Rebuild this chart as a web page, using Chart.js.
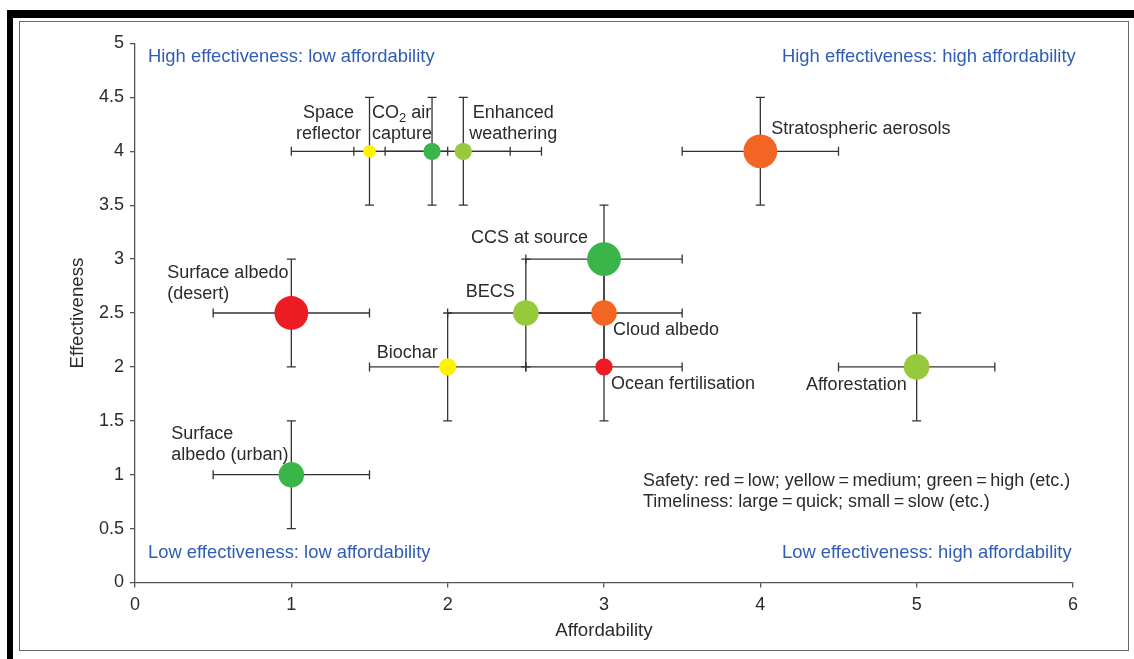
<!DOCTYPE html>
<html>
<head>
<meta charset="utf-8">
<title>Geoengineering options: effectiveness vs affordability</title>
<script src="https://cdn.jsdelivr.net/npm/chart.js@4.4.1/dist/chart.umd.min.js"></script>
<style>
  html, body { margin: 0; padding: 0; background: #fff; }
  #wrap { position: relative; width: 1134px; height: 659px; overflow: hidden; background: #fff; }
  #chart { position: absolute; left: 0; top: 0; }
  .bar-top { position: absolute; left: 7px; top: 10px; width: 1127px; height: 8px; background: #000; }
  .bar-left { position: absolute; left: 7px; top: 10px; width: 6px; height: 649px; background: #000; }
  .frame { position: absolute; left: 19px; top: 21px; width: 1108px; height: 628px; border: 1.5px solid #6a6a6a; pointer-events: none; }
</style>
</head>
<body>
<div id="wrap">
  <canvas id="chart" width="1134" height="659"></canvas>
  <div class="bar-top"></div>
  <div class="bar-left"></div>
  <div class="frame"></div>
</div>
<script>
// ---- data ----
const methods = [
  'Space\nreflector', 'CO₂ air\ncapture', 'Enhanced\nweathering', 'Stratospheric aerosols',
  'CCS at source', 'BECS', 'Cloud albedo', 'Ocean fertilisation', 'Biochar',
  'Surface albedo\n(desert)', 'Surface\nalbedo (urban)', 'Afforestation'
];
const affordability = [1.5, 1.9, 2.1, 4, 3, 2.5, 3, 3, 2, 1, 1, 5];
const effectiveness = [4, 4, 4, 4, 3, 2.5, 2.5, 2, 2, 2.5, 1, 2];
const affordabilitySpread = [0.5, 0.5, 0.5, 0.5, 0.5, 0.5, 0.5, 0.5, 0.5, 0.5, 0.5, 0.5];
const effectivenessSpread = [0.5, 0.5, 0.5, 0.5, 0.5, 0.5, 0.5, 0.5, 0.5, 0.5, 0.5, 0.5];
// safety class and timeliness rank (1 = slow ... 4 = quick)
const safety = ['medium', 'high', 'mediumHigh', 'lowMedium', 'high', 'mediumHigh',
                'lowMedium', 'low', 'medium', 'low', 'high', 'mediumHigh'];
const timeliness = [1, 2, 2, 4, 4, 3, 3, 2, 2, 4, 3, 3];
const xTicks = [0, 1, 2, 3, 4, 5, 6];
const yTicks = [0, 0.5, 1, 1.5, 2, 2.5, 3, 3.5, 4, 4.5, 5];
const quadrantTexts = [
  'High effectiveness: low affordability', 'High effectiveness: high affordability',
  'Low effectiveness: low affordability', 'Low effectiveness: high affordability'
];
const keyNotes = [
  'Safety: red\u2009=\u2009low; yellow\u2009=\u2009medium; green\u2009=\u2009high (etc.)',
  'Timeliness: large\u2009=\u2009quick; small\u2009=\u2009slow (etc.)'
];

// ---- styling ----
const FONT = '"Liberation Sans", Arial, Helvetica, sans-serif';
const TEXT = '#2b2b2b';
const BLUE = '#2f5db6';
const AXIS = '#555';
const safetyColour = {
  low: '#ed1c24', lowMedium: '#f26522', medium: '#fff200', mediumHigh: '#97c93d', high: '#39b54a'
};
const radiusForRank = { 1: 6.3, 2: 8.6, 3: 12.8, 4: 16.9 };
// text anchor relative to each marker: alignment, x offset, y offset of first line
const labelPlacement = [
  { align: 'center', dx: -41, dy: -38 },
  { align: 'left',   dx: -60, dy: -38 },
  { align: 'center', dx: 50,  dy: -38 },
  { align: 'left',   dx: 11,  dy: -22 },
  { align: 'right',  dx: -16, dy: -21 },
  { align: 'right',  dx: -11, dy: -21 },
  { align: 'left',   dx: 9,   dy: 17 },
  { align: 'left',   dx: 7,   dy: 17 },
  { align: 'right',  dx: -10, dy: -14 },
  { align: 'left',   dx: -124, dy: -40 },
  { align: 'left',   dx: -120, dy: -41 },
  { align: 'right',  dx: -10, dy: 18 }
];
const LINE_GAP = 21;

Chart.defaults.font.family = FONT;

// draw a text line, rendering "₂" as a lowered, smaller 2
function drawRich(ctx, text, x, y, align, size) {
  const parts = text.split('₂');
  const normal = size + 'px ' + FONT;
  const small = Math.round(size * 0.72) + 'px ' + FONT;
  const segs = [];
  parts.forEach((p, i) => {
    if (p) segs.push({ t: p, f: normal, dy: 0 });
    if (i < parts.length - 1) segs.push({ t: '2', f: small, dy: size * 0.28 });
  });
  let total = 0;
  segs.forEach(s => { ctx.font = s.f; s.w = ctx.measureText(s.t).width; total += s.w; });
  let cx = align === 'left' ? x : align === 'right' ? x - total : x - total / 2;
  ctx.textAlign = 'left';
  ctx.textBaseline = 'middle';
  segs.forEach(s => { ctx.font = s.f; ctx.fillText(s.t, cx, y + s.dy); cx += s.w; });
}

const annotations = {
  id: 'annotations',
  beforeDatasetsDraw(chart) {
    const { ctx, scales: { x, y } } = chart;
    ctx.save();
    ctx.strokeStyle = '#333';
    ctx.lineWidth = 1.3;
    const cap = 4.5;
    affordability.forEach((a, i) => {
      const e = effectiveness[i];
      const px = x.getPixelForValue(a), py = y.getPixelForValue(e);
      const x0 = x.getPixelForValue(a - affordabilitySpread[i]);
      const x1 = x.getPixelForValue(a + affordabilitySpread[i]);
      const y0 = y.getPixelForValue(e - effectivenessSpread[i]);
      const y1 = y.getPixelForValue(e + effectivenessSpread[i]);
      ctx.beginPath();
      ctx.moveTo(x0, py); ctx.lineTo(x1, py);
      ctx.moveTo(x0, py - cap); ctx.lineTo(x0, py + cap);
      ctx.moveTo(x1, py - cap); ctx.lineTo(x1, py + cap);
      ctx.moveTo(px, y0); ctx.lineTo(px, y1);
      ctx.moveTo(px - cap, y0); ctx.lineTo(px + cap, y0);
      ctx.moveTo(px - cap, y1); ctx.lineTo(px + cap, y1);
      ctx.stroke();
    });
    ctx.restore();
  },
  afterDatasetsDraw(chart) {
    const { ctx, chartArea: area, scales: { x, y } } = chart;
    ctx.save();
    ctx.fillStyle = TEXT;
    methods.forEach((name, i) => {
      const px = x.getPixelForValue(affordability[i]);
      const py = y.getPixelForValue(effectiveness[i]);
      const pl = labelPlacement[i];
      name.split('\n').forEach((line, k) => {
        drawRich(ctx, line, px + pl.dx, py + pl.dy + k * LINE_GAP, pl.align, 18);
      });
    });
    // quadrant captions
    ctx.fillStyle = BLUE;
    const qx = [area.left + 13, area.left + 647];
    const qy = [area.top + 13.5, area.bottom - 30];
    quadrantTexts.forEach((t, i) => {
      drawRich(ctx, t, qx[i % 2], qy[Math.floor(i / 2)], 'left', 18.4);
    });
    // key
    ctx.fillStyle = TEXT;
    keyNotes.forEach((t, i) => {
      drawRich(ctx, t, area.left + 508, area.bottom - 101.5 + i * 21, 'left', 18);
    });
    ctx.restore();
  }
};

new Chart(document.getElementById('chart'), {
  type: 'scatter',
  data: {
    datasets: [{
      data: affordability.map((a, i) => ({ x: a, y: effectiveness[i] })),
      pointBackgroundColor: safety.map(s => safetyColour[s]),
      pointBorderWidth: 0,
      pointRadius: timeliness.map(r => radiusForRank[r]),
      pointHoverRadius: timeliness.map(r => radiusForRank[r])
    }]
  },
  options: {
    responsive: false,
    devicePixelRatio: 1,
    animation: false,
    events: [],
    layout: { padding: { left: 67, top: 43.5, right: 61, bottom: 17.2 } },
    plugins: { legend: { display: false }, tooltip: { enabled: false } },
    scales: {
      x: {
        type: 'linear', min: 0, max: 6,
        afterBuildTicks: s => { s.ticks = xTicks.map(v => ({ value: v })); },
        afterFit: s => { s.height = 59.3; },
        grid: { drawOnChartArea: false, drawTicks: true, tickLength: 5, color: AXIS, lineWidth: 1.3 },
        border: { display: true, color: AXIS, width: 1.3 },
        ticks: { color: TEXT, font: { size: 18 }, padding: 7, maxRotation: 0, autoSkip: false },
        title: { display: true, text: 'Affordability', color: TEXT, font: { size: 18.7 }, padding: 0 }
      },
      y: {
        type: 'linear', min: 0, max: 5,
        afterBuildTicks: s => { s.ticks = yTicks.map(v => ({ value: v })); },
        afterFit: s => { s.width = 68; },
        grid: { drawOnChartArea: false, drawTicks: true, tickLength: 5, color: AXIS, lineWidth: 1.3 },
        border: { display: true, color: AXIS, width: 1.3 },
        ticks: { color: TEXT, font: { size: 18 }, padding: 6, autoSkip: false, callback: v => String(v) },
        title: { display: true, text: 'Effectiveness', color: TEXT, font: { size: 18.7 }, padding: 0 }
      }
    }
  },
  plugins: [annotations]
});
</script>
</body>
</html>
